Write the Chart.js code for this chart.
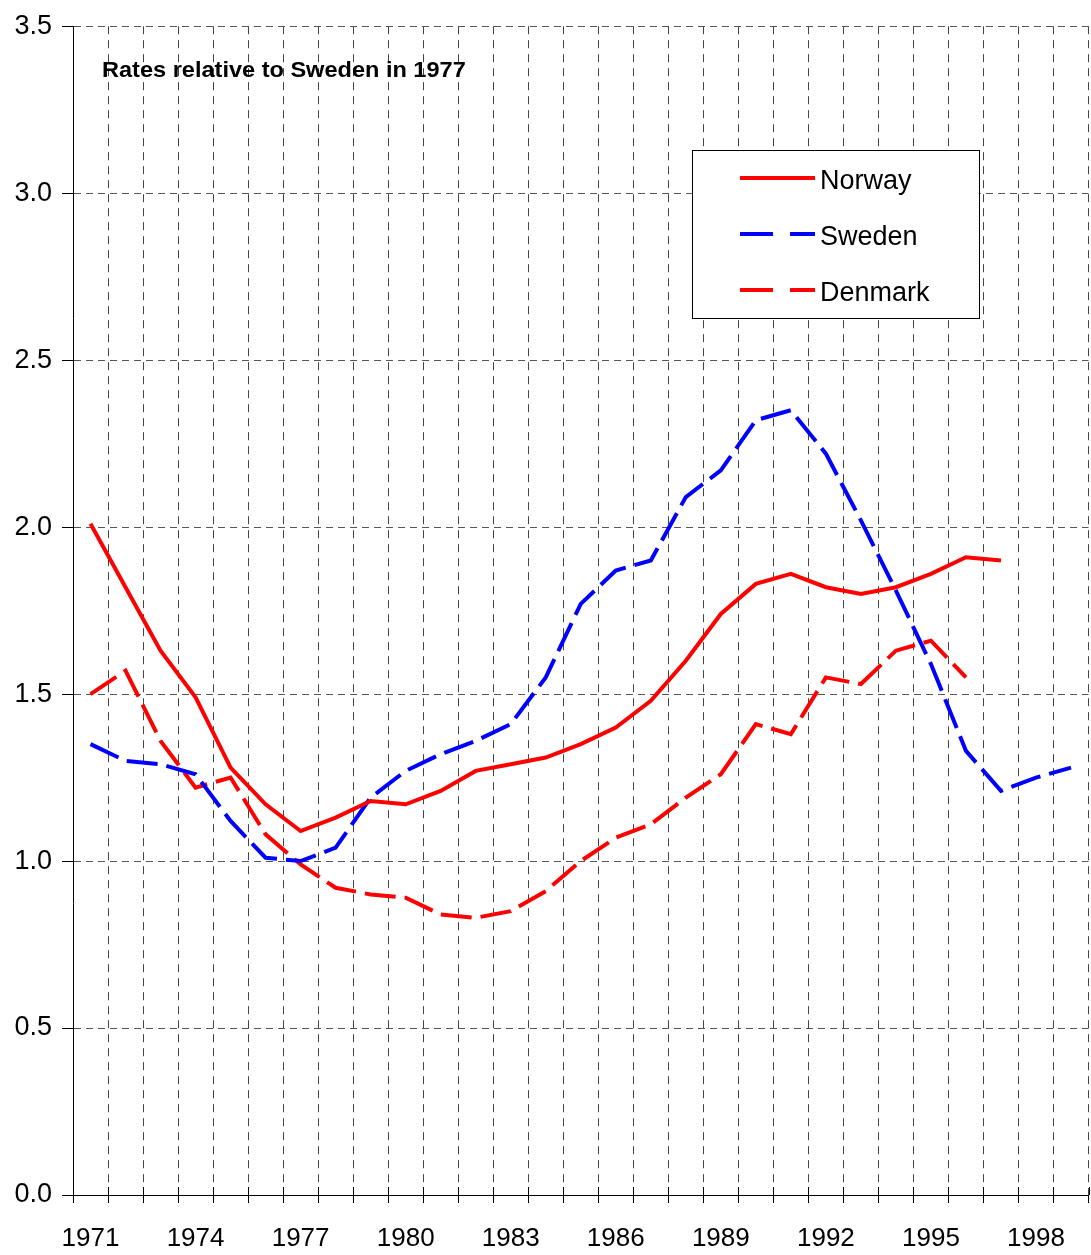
<!DOCTYPE html>
<html>
<head>
<meta charset="utf-8">
<script src="https://cdn.jsdelivr.net/npm/chart.js@4/dist/chart.umd.min.js"></script>
<style>
html,body{margin:0;padding:0;background:#fff;}
#wrap{width:1091px;height:1255px;position:relative;}
</style>
</head>
<body>
<div id="wrap"><canvas id="c"></canvas></div>
<script>
const years = ['1971','1972','1973','1974','1975','1976','1977','1978','1979','1980','1981','1982','1983','1984','1985','1986','1987','1988','1989','1990','1991','1992','1993','1994','1995','1996','1997','1998','1999'];
const norway = [2.01,1.82,1.63,1.49,1.28,1.17,1.09,1.13,1.18,1.17,1.21,1.27,1.29,1.31,1.35,1.40,1.48,1.60,1.74,1.83,1.86,1.82,1.80,1.82,1.86,1.91,1.90,null,null];
const sweden = [1.35,1.30,1.29,1.26,1.12,1.01,1.00,1.04,1.19,1.27,1.32,1.36,1.41,1.55,1.77,1.87,1.90,2.09,2.17,2.32,2.35,2.22,2.02,1.81,1.59,1.33,1.21,1.25,1.28];
const denmark = [1.50,1.57,1.36,1.22,1.25,1.08,0.99,0.92,0.90,0.89,0.84,0.83,0.85,0.91,1.00,1.07,1.11,1.19,1.26,1.41,1.38,1.55,1.53,1.63,1.66,1.55,null,null,null];
const seriesNames = ['Norway','Sweden','Denmark'];
const yTicks = [0,0.5,1.0,1.5,2.0,2.5,3.0,3.5];
const titleText = 'Rates relative to Sweden in 1977';

const FONT = '"Liberation Sans", Arial, sans-serif';

const overlay = {
  id: 'overlay',
  afterDraw(chart) {
    const ctx = chart.ctx;
    const xs = chart.scales.x;
    const area = chart.chartArea;
    ctx.save();
    // tick marks above the axis
    ctx.strokeStyle = '#000';
    ctx.lineWidth = 1;
    const n = years.length;
    const w = (xs.right - xs.left) / n;
    ctx.beginPath();
    for (let i = 0; i <= n; i++) {
      const x = Math.round(xs.left + i * w) + 0.5;
      ctx.moveTo(x, area.bottom - 8);
      ctx.lineTo(x, area.bottom);
    }
    ctx.stroke();
    // title (slightly stretched horizontally like the original)
    ctx.save();
    ctx.fillStyle = '#000';
    ctx.font = 'bold 22px ' + FONT;
    ctx.textBaseline = 'alphabetic';
    ctx.textAlign = 'left';
    ctx.translate(102, 77);
    ctx.scale(1.07, 1);
    ctx.fillText(titleText, 0, 0);
    ctx.restore();
    // legend
    ctx.fillStyle = '#fff';
    ctx.fillRect(692.5, 150.5, 287, 168);
    ctx.strokeStyle = '#000';
    ctx.lineWidth = 1;
    ctx.strokeRect(692.5, 150.5, 287, 168);
    const rows = [178, 234, 290];
    const bases = [189, 245, 301];
    chart.data.datasets.forEach((ds, i) => {
      ctx.save();
      ctx.strokeStyle = ds.borderColor;
      ctx.lineWidth = ds.borderWidth;
      ctx.lineCap = 'butt';
      ctx.setLineDash(ds.borderDash && ds.borderDash.length ? [33, 17] : []);
      ctx.beginPath();
      ctx.moveTo(740, rows[i]);
      ctx.lineTo(815, rows[i]);
      ctx.stroke();
      ctx.restore();
      ctx.fillStyle = '#000';
      ctx.font = '27px ' + FONT;
      ctx.textAlign = 'left';
      ctx.textBaseline = 'alphabetic';
      ctx.fillText(ds.label, 820, bases[i]);
    });
    ctx.restore();
  }
};

new Chart(document.getElementById('c'), {
  type: 'line',
  data: {
    labels: years,
    datasets: [
      { label: seriesNames[0], data: norway, borderColor: '#ff0000', borderWidth: 4, borderDash: [], pointRadius: 0, tension: 0, fill: false },
      { label: seriesNames[1], data: sweden, borderColor: '#0000ff', borderWidth: 4, borderDash: [31, 9], pointRadius: 0, tension: 0, fill: false },
      { label: seriesNames[2], data: denmark, borderColor: '#ff0000', borderWidth: 4, borderDash: [31, 9], pointRadius: 0, tension: 0, fill: false }
    ]
  },
  options: {
    responsive: true,
    maintainAspectRatio: false,
    animation: false,
    devicePixelRatio: 1,
    layout: { padding: { top: 23, right: 0, left: 0, bottom: 0 } },
    plugins: { legend: { display: false }, tooltip: { enabled: false }, title: { display: false } },
    scales: {
      x: {
        type: 'category',
        offset: true,
        grid: { offset: true, display: true, color: '#444', lineWidth: 1, drawTicks: true, tickLength: 8, tickColor: '#000', tickBorderDash: [] },
        border: { display: true, color: '#000', width: 1, dash: [8, 6] },
        ticks: {
          autoSkip: false, maxRotation: 0, minRotation: 0, padding: 20,
          color: '#000', font: { family: FONT, size: 26 },
          callback: function(v, i) { return i % 3 === 0 ? years[i] : ''; }
        },
        afterFit: function(s) { s.height = 60; }
      },
      y: {
        min: 0, max: 3.5,
        afterBuildTicks: function(s) { s.ticks = yTicks.map(v => ({ value: v })); },
        grid: { color: '#555', lineWidth: 1, drawTicks: true, tickLength: 11, tickColor: '#000', tickBorderDash: [] },
        border: { display: true, color: '#000', width: 1, dash: [7, 5] },
        ticks: {
          padding: 10, color: '#000', font: { family: FONT, size: 27 },
          callback: function(v) { return Number(v).toFixed(1); }
        },
        afterFit: function(s) { s.width = 73; }
      }
    }
  },
  plugins: [overlay]
});
</script>
</body>
</html>
